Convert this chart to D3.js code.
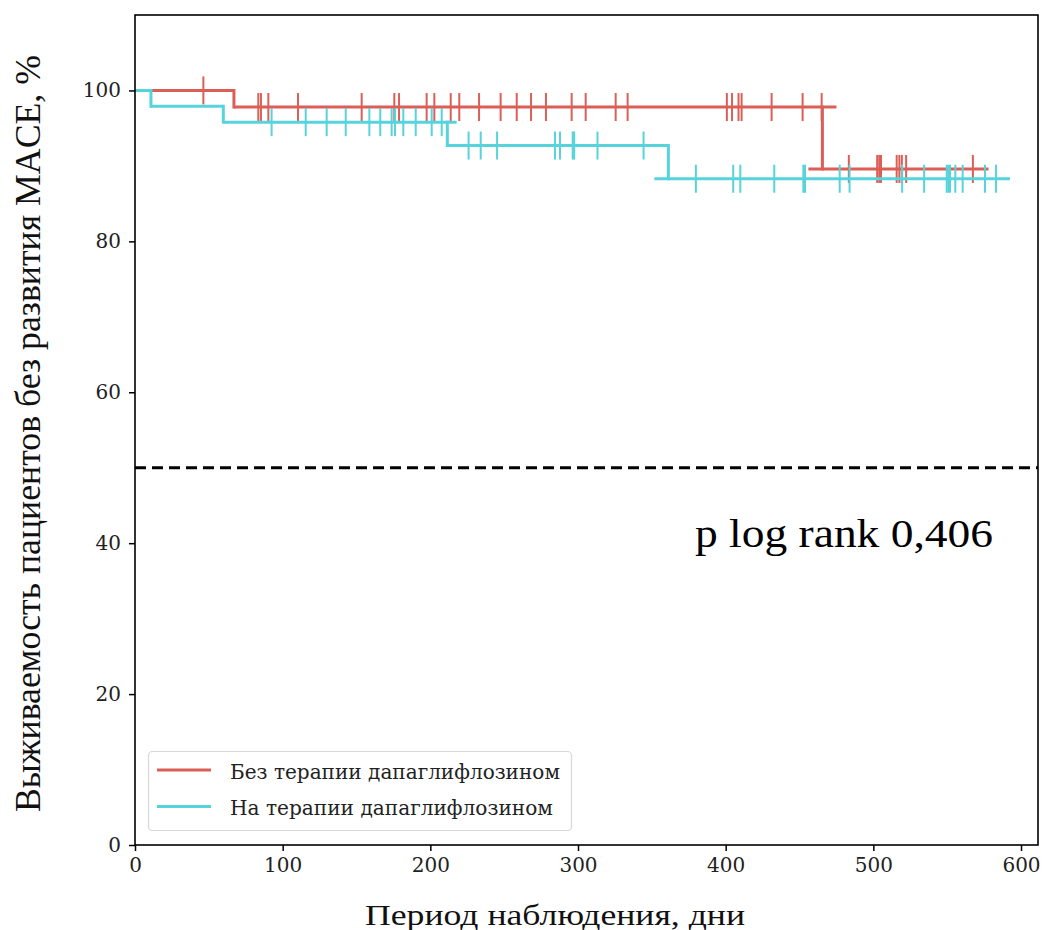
<!DOCTYPE html>
<html>
<head>
<meta charset="utf-8">
<script src="https://cdn.jsdelivr.net/npm/d3@7"></script>
<style>
  html, body { margin: 0; padding: 0; background: #fff; }
  svg { display: block; }
  .times { font-family: "Liberation Serif", LiberationSerif, "Tinos", "Nimbus Roman", "Nimbus Roman No9 L", "FreeSerif", "Noto Serif", "Times New Roman", Times, serif; }
  .djv { font-family: "DejaVu Serif", serif; }
</style>
</head>
<body>
<svg id="chart" width="1047" height="930"></svg>
<script>
// Kaplan–Meier curves: MACE-free survival, with and without dapagliflozin

const groupNames = ["Без терапии дапаглифлозином", "На терапии дапаглифлозином"];
const groupColors = ["#db5f57", "#57d3db"];

// Horizontal runs of each curve: [from day, to day, survival %]
const runsNoDapa = [[0, 67, 100], [67, 475, 97.8], [456, 578, 89.6]];
const runsDapa = [[0, 10.8, 100], [10.8, 59.8, 97.9], [59.8, 217.8, 95.8], [211.5, 361.2, 92.7], [351.7, 592.5, 88.3]];

// Event drops: [day, survival before, survival after]
const dropsNoDapa = [[67, 100, 97.8], [465.5, 97.8, 89.6]];
const dropsDapa = [[10.8, 100, 97.9], [59.8, 97.9, 95.8], [211.5, 95.8, 92.7], [361.2, 92.7, 88.3]];

// Censored observations: [survival %, days]
const censorNoDapa = [
  [100, [46.3]],
  [97.8, [83.5, 85.3, 90.3, 110.4, 153.5, 175.6, 178.8, 197.5, 202.7, 213.8, 219.6, 233, 247.6, 258.5,
          268.2, 278.3, 295.7, 305.2, 325.5, 333.6, 400.8, 404.3, 408.7, 410.8, 431.1, 452.1, 465]],
  [89.6, [483.4, 502.6, 504, 505.2, 515.8, 517.6, 519.3, 522.2, 567.4]]
];
const censorDapa = [
  [95.8, [92.5, 115.6, 129.8, 142.7, 158.7, 166.1, 173.8, 176.1, 181.7, 190.1, 200.9, 207.7]],
  [92.7, [225.9, 234.1, 245.2, 284.4, 287.8, 296.4, 297.4, 313.2, 344.4]],
  [88.3, [379.8, 405.1, 409.9, 432.9, 452.6, 453.7, 477.2, 483.9, 519.5, 534.4, 549.7, 550.8, 551.9,
          555.5, 560.5, 575.6, 583.1]]
];

const xTicks = [0, 100, 200, 300, 400, 500, 600];
const yTicks = [0, 20, 40, 60, 80, 100];
const medianLevel = 50;

const xLabel = "Период наблюдения, дни";
const yLabel = "Выживаемость пациентов без развития MACE, %";
const pText = "p log rank 0,406";

const series = [
  { name: groupNames[0], color: groupColors[0], runs: runsNoDapa, drops: dropsNoDapa, censor: censorNoDapa },
  { name: groupNames[1], color: groupColors[1], runs: runsDapa, drops: dropsDapa, censor: censorDapa }
];

const svg = d3.select("#chart");
const plot = { left: 135, right: 1038, top: 15, bottom: 845 };

const x = d3.scaleLinear().domain([0, 611.5]).range([plot.left, plot.right]);
const y = d3.scaleLinear().domain([0, 110]).range([plot.bottom, plot.top]);

// Median reference line
svg.append("line")
  .attr("x1", plot.left).attr("x2", plot.right)
  .attr("y1", y(medianLevel)).attr("y2", y(medianLevel))
  .attr("stroke", "#000").attr("stroke-width", 3)
  .attr("stroke-dasharray", "11,6");

// Curves
const curves = svg.append("g");
series.forEach(s => {
  const g = curves.append("g").attr("stroke", s.color).attr("fill", "none");
  g.selectAll("line.run").data(s.runs).join("line").attr("class", "run")
    .attr("x1", d => x(d[0])).attr("x2", d => x(d[1]))
    .attr("y1", d => y(d[2])).attr("y2", d => y(d[2]))
    .attr("stroke-width", 3);
  g.selectAll("line.drop").data(s.drops).join("line").attr("class", "drop")
    .attr("x1", d => x(d[0])).attr("x2", d => x(d[0]))
    .attr("y1", d => y(d[1]) - 1.5).attr("y2", d => y(d[2]) + 1.5)
    .attr("stroke-width", 3);
  const marks = s.censor.flatMap(([lvl, days]) => days.map(t => [t, lvl]));
  g.selectAll("line.cens").data(marks).join("line").attr("class", "cens")
    .attr("x1", d => x(d[0])).attr("x2", d => x(d[0]))
    .attr("y1", d => y(d[1]) - 14).attr("y2", d => y(d[1]) + 14)
    .attr("stroke-width", 2);
});

// Axes
const xAxis = d3.axisBottom(x).tickValues(xTicks).tickSize(6).tickPadding(7);
const yAxis = d3.axisLeft(y).tickValues(yTicks).tickSize(6).tickPadding(8);

const gx = svg.append("g").attr("transform", `translate(0,${plot.bottom})`).call(xAxis);
const gy = svg.append("g").attr("transform", `translate(${plot.left},0)`).call(yAxis);
[gx, gy].forEach(g => {
  g.attr("font-family", null).attr("font-size", null);
  g.select(".domain").remove();
  g.selectAll(".tick line").attr("stroke", "#000").attr("stroke-width", 1.5);
  g.selectAll(".tick text").attr("class", "djv").style("font-size", "20px").attr("fill", "#222");
});

// Frame
svg.append("rect")
  .attr("x", plot.left).attr("y", plot.top)
  .attr("width", plot.right - plot.left).attr("height", plot.bottom - plot.top)
  .attr("fill", "none").attr("stroke", "#000").attr("stroke-width", 1.6);

// Log-rank annotation
svg.append("text").attr("class", "times")
  .attr("x", 695).attr("y", 547)
  .style("font-size", "40px").attr("fill", "#000")
  .attr("textLength", 298).attr("lengthAdjust", "spacingAndGlyphs")
  .text(pText);

// Axis titles
svg.append("text").attr("class", "times")
  .attr("x", 365).attr("y", 925)
  .style("font-size", "29px").attr("fill", "#111")
  .attr("textLength", 380).attr("lengthAdjust", "spacingAndGlyphs")
  .text(xLabel);

svg.append("text").attr("class", "times")
  .attr("transform", "translate(40,812) rotate(-90)")
  .style("font-size", "36px").attr("fill", "#111")
  .attr("textLength", 757).attr("lengthAdjust", "spacingAndGlyphs")
  .text(yLabel);

// Legend
const legend = svg.append("g");
legend.append("rect")
  .attr("x", 148.5).attr("y", 751.5).attr("width", 423).attr("height", 79).attr("rx", 4)
  .attr("fill", "#fff").attr("fill-opacity", 0.85)
  .attr("stroke", "#d8d8d8").attr("stroke-width", 1.2);
series.forEach((s, i) => {
  const cy = 770 + i * 36.5;
  legend.append("line")
    .attr("x1", 157).attr("x2", 211).attr("y1", cy).attr("y2", cy)
    .attr("stroke", s.color).attr("stroke-width", 3);
  legend.append("text").attr("class", "djv")
    .attr("x", 230).attr("y", cy + 8.5)
    .style("font-size", "21px").attr("fill", "#222")
    .attr("textLength", i === 0 ? 330 : 323).attr("lengthAdjust", "spacingAndGlyphs")
    .text(s.name);
});
</script>
</body>
</html>
